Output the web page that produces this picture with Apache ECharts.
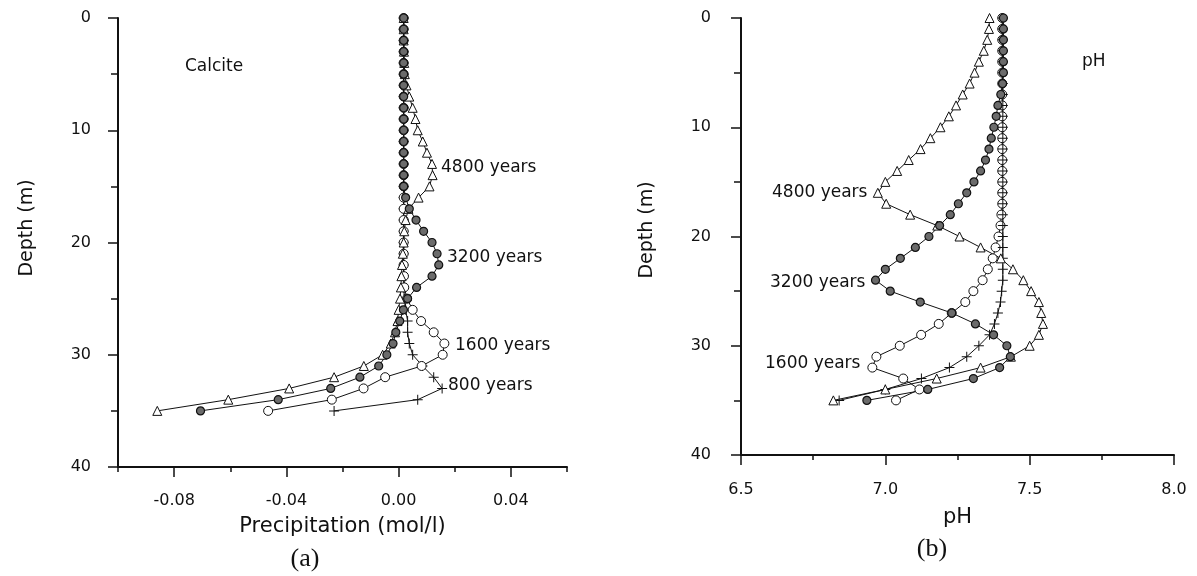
<!DOCTYPE html>
<html>
<head>
<meta charset="utf-8">
<title>Calcite and pH depth profiles</title>
<script src="https://cdn.jsdelivr.net/npm/echarts@6/dist/echarts.min.js"></script>
<style>
    html, body { margin: 0; padding: 0; background: #fff; }
    #chart { width: 1197px; height: 576px; }
</style>
</head>
<body>
<div id="chart"></div>
<script>
// depth of each model node (m)
var depths = [0, 1, 2, 3, 4, 5, 6, 7, 8, 9, 10, 11, 12, 13, 14, 15, 16, 17,
    18, 19, 20, 21, 22, 23, 24, 25, 26, 27, 28, 29, 30, 31, 32, 33, 34, 35];

// (a) calcite precipitation (mol/l), one value per depth
var calcite800 = [0.0018, 0.0018, 0.0018, 0.0018, 0.0018, 0.0018, 0.0018, 0.0018, 0.0018, 0.0018,
    0.0018, 0.0018, 0.0018, 0.0018, 0.0018, 0.0018, 0.0018, 0.0018, 0.0018, 0.0018,
    0.0018, 0.0018, 0.0018, 0.0018, 0.0019, 0.002, 0.0025, 0.0032, 0.0032, 0.0038,
    0.005, 0.0085, 0.0125, 0.0155, 0.0068, -0.023];
var calcite1600 = [0.0018, 0.0018, 0.0018, 0.0018, 0.0018, 0.0018, 0.0018, 0.0018, 0.0018, 0.0018,
    0.0018, 0.0018, 0.0018, 0.0018, 0.0018, 0.0018, 0.0018, 0.0018, 0.0018, 0.0018,
    0.0018, 0.0018, 0.0018, 0.0019, 0.002, 0.003, 0.005, 0.008, 0.0125, 0.0163,
    0.0157, 0.0082, -0.0048, -0.0125, -0.0238, -0.0465];
var calcite3200 = [0.0018, 0.0018, 0.0018, 0.0018, 0.0018, 0.0018, 0.0018, 0.0018, 0.0018, 0.0018,
    0.0018, 0.0018, 0.0018, 0.0018, 0.0018, 0.0018, 0.0025, 0.0038, 0.0062, 0.0089,
    0.0119, 0.0137, 0.0143, 0.0119, 0.0064, 0.0032, 0.0017, 0.0004, -0.001, -0.002,
    -0.0042, -0.0071, -0.0138, -0.0242, -0.0429, -0.0706];
var calcite4800 = [0.0018, 0.0018, 0.0018, 0.0019, 0.002, 0.0022, 0.0028, 0.0038, 0.005, 0.006,
    0.0068, 0.0086, 0.0101, 0.0119, 0.0121, 0.011, 0.0071, 0.0035, 0.0025, 0.002,
    0.0018, 0.0015, 0.0012, 0.001, 0.0008, 0.0005, 0.0, -0.0004, -0.0013, -0.0028,
    -0.0057, -0.0124, -0.023, -0.039, -0.0607, -0.086];

// (b) pH, one value per depth
var ph800 = [7.407, 7.407, 7.407, 7.407, 7.407, 7.407, 7.407, 7.407, 7.407, 7.407,
    7.407, 7.407, 7.407, 7.407, 7.407, 7.407, 7.407, 7.407, 7.407, 7.407,
    7.407, 7.407, 7.407, 7.407, 7.407, 7.403, 7.399, 7.390, 7.378, 7.361,
    7.324, 7.282, 7.222, 7.125, 7.0, 6.84];
var ph1600 = [7.405, 7.405, 7.405, 7.405, 7.405, 7.405, 7.405, 7.405, 7.405, 7.405,
    7.405, 7.405, 7.405, 7.405, 7.405, 7.405, 7.405, 7.405, 7.402, 7.399,
    7.392, 7.382, 7.372, 7.355, 7.337, 7.305, 7.277, 7.230, 7.185, 7.124,
    7.05, 6.969, 6.955, 7.062, 7.118, 7.037];
var ph3200 = [7.409, 7.409, 7.409, 7.409, 7.409, 7.409, 7.406, 7.40, 7.39, 7.384,
    7.376, 7.367, 7.359, 7.347, 7.330, 7.307, 7.282, 7.253, 7.225, 7.188,
    7.151, 7.104, 7.052, 7.000, 6.966, 7.017, 7.121, 7.230, 7.312, 7.375,
    7.421, 7.433, 7.396, 7.305, 7.147, 6.936];
var ph4800 = [7.361, 7.359, 7.353, 7.341, 7.324, 7.309, 7.292, 7.268, 7.245, 7.220,
    7.191, 7.156, 7.122, 7.081, 7.041, 7.000, 6.974, 7.003, 7.086, 7.18,
    7.257, 7.330, 7.40, 7.442, 7.478, 7.505, 7.532, 7.540, 7.546, 7.532,
    7.500, 7.435, 7.33, 7.178, 7.0, 6.82];

// labelled ticks of the precipitation axis (the others sit every 0.02)
var calciteLabelTicks = [-0.08, -0.04, 0.00, 0.04];

(function (echarts) {
    "use strict";

    var FONT = '"DejaVu Sans", sans-serif';
    var INK = '#111';
    var CROSS = 'path://M9,0h2v20h-2z M0,9h20v2h-20z';

    function pairs(values) {
        var out = [];
        for (var i = 0; i < depths.length; i++) {
            out.push([values[i], depths[i]]);
        }
        return out;
    }

    // one depth profile; the marker style tells the years apart
    function profile(name, grid, values, kind) {
        var s = {
            name: name,
            type: 'line',
            xAxisIndex: grid === 0 ? 0 : 2,
            yAxisIndex: grid,
            data: pairs(values),
            silent: true,
            animation: false,
            lineStyle: { color: INK, width: 1 },
            itemStyle: { color: '#fff', borderColor: INK, borderWidth: 1 }
        };
        if (kind === 'cross') {
            s.symbol = CROSS;
            s.symbolSize = 10;
            s.itemStyle = { color: INK, borderWidth: 0 };
        } else if (kind === 'open') {
            s.symbol = 'circle';
            s.symbolSize = 9;
        } else if (kind === 'tri') {
            s.symbol = 'triangle';
            s.symbolSize = 9;
        } else {
            s.symbol = 'circle';
            s.symbolSize = 8;
            s.itemStyle = { color: '#6b6b6b', borderColor: INK, borderWidth: 1.2 };
        }
        return s;
    }

    function depthAxis(grid, margin) {
        return {
            gridIndex: grid,
            type: 'value',
            inverse: true,
            min: 0,
            max: 40,
            interval: 10,
            splitLine: { show: false },
            axisLine: { onZero: false, lineStyle: { color: INK, width: 2 } },
            axisTick: { length: 10, lineStyle: { color: INK, width: 1.5 } },
            minorTick: { show: true, splitNumber: 2, length: 7, lineStyle: { color: INK, width: 1.5 } },
            axisLabel: { margin: margin, color: INK, fontFamily: FONT, fontSize: 16 }
        };
    }

    function text(str, x, y, size, extra) {
        var t = {
            type: 'text',
            x: x,
            y: y,
            silent: true,
            style: {
                text: str,
                fill: INK,
                font: size + 'px ' + FONT,
                align: 'left',
                verticalAlign: 'middle'
            }
        };
        for (var k in extra) {
            if (k === 'style') {
                for (var j in extra.style) t.style[j] = extra.style[j];
            } else {
                t[k] = extra[k];
            }
        }
        return t;
    }

    var chart = echarts.init(document.getElementById('chart'), null, { renderer: 'canvas' });

    chart.setOption({
        backgroundColor: '#fff',
        animation: false,
        grid: [
            { left: 118, top: 18, width: 449, height: 449 },
            { left: 741, top: 18, width: 433, height: 437 }
        ],
        xAxis: [
            {
                gridIndex: 0,
                type: 'value',
                min: -0.1,
                max: 0.06,
                interval: 0.02,
                name: 'Precipitation (mol/l)',
                nameLocation: 'middle',
                nameGap: 49,
                nameTextStyle: { color: INK, fontFamily: FONT, fontSize: 21 },
                splitLine: { show: false },
                axisLine: { onZero: false, lineStyle: { color: INK, width: 2 } },
                axisTick: { length: 5, lineStyle: { color: INK, width: 1.5 } },
                axisLabel: {
                    margin: 26,
                    color: INK,
                    fontFamily: FONT,
                    fontSize: 16,
                    formatter: function (v) {
                        var k = Math.round(v * 100);
                        return k % 4 === 0 ? v.toFixed(2) : '';
                    }
                }
            },
            {
                // longer ticks under the labelled values
                gridIndex: 0,
                type: 'value',
                position: 'bottom',
                min: -0.1,
                max: 0.06,
                splitLine: { show: false },
                axisLine: { show: false, onZero: false },
                axisLabel: { show: false },
                axisTick: {
                    length: 10,
                    customValues: calciteLabelTicks,
                    lineStyle: { color: INK, width: 1.5 }
                }
            },
            {
                gridIndex: 1,
                type: 'value',
                min: 6.5,
                max: 8.0,
                interval: 0.5,
                name: 'pH',
                nameLocation: 'middle',
                nameGap: 52,
                nameTextStyle: { color: INK, fontFamily: FONT, fontSize: 21 },
                splitLine: { show: false },
                axisLine: { onZero: false, lineStyle: { color: INK, width: 2 } },
                axisTick: { length: 10, lineStyle: { color: INK, width: 1.5 } },
                minorTick: { show: true, splitNumber: 2, length: 5, lineStyle: { color: INK, width: 1.5 } },
                axisLabel: {
                    margin: 27,
                    color: INK,
                    fontFamily: FONT,
                    fontSize: 16,
                    formatter: function (v) { return v.toFixed(1); }
                }
            }
        ],
        yAxis: [depthAxis(0, 27), depthAxis(1, 30)],
        series: [
            profile('800 years', 0, calcite800, 'cross'),
            profile('1600 years', 0, calcite1600, 'open'),
            profile('4800 years', 0, calcite4800, 'tri'),
            profile('3200 years', 0, calcite3200, 'fill'),
            profile('1600 years', 1, ph1600, 'open'),
            profile('800 years', 1, ph800, 'cross'),
            profile('4800 years', 1, ph4800, 'tri'),
            profile('3200 years', 1, ph3200, 'fill')
        ],
        graphic: [
            text('Depth (m)', 27, 228, 19, { rotation: Math.PI / 2, style: { align: 'center' } }),
            text('Depth (m)', 647, 230, 19, { rotation: Math.PI / 2, style: { align: 'center' } }),
            text('Calcite', 185, 67, 17, {}),
            text('pH', 1082, 62, 17, {}),
            text('4800 years', 441, 168, 17, {}),
            text('3200 years', 447, 258, 17, {}),
            text('1600 years', 455, 346, 17, {}),
            text('800 years', 448, 386, 17, {}),
            text('4800 years', 772, 193, 17, {}),
            text('3200 years', 770, 283, 17, {}),
            text('1600 years', 765, 364, 17, {}),
            text('(a)', 305, 559, 26, { style: { align: 'center', font: '26px "Liberation Serif", serif' } }),
            text('(b)', 932, 549, 26, { style: { align: 'center', font: '26px "Liberation Serif", serif' } })
        ]
    });
})(echarts);
</script>
</body>
</html>
